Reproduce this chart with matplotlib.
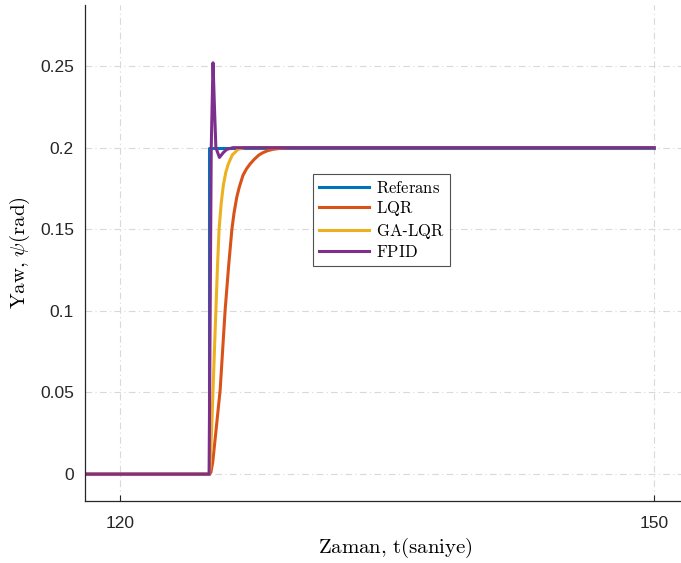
import matplotlib
matplotlib.use("Agg")
from matplotlib import pyplot as plt

# data
t_ref = [118, 125.0, 125.0, 150]
y_ref = [0, 0, 0.2, 0.2]

t_lqr = [118, 125.0, 125.1, 125.2, 125.4, 125.62, 125.9, 126.1, 126.28, 126.4, 126.56, 126.7,
         126.9, 127.1, 127.3, 127.55, 127.8, 128.0, 128.3, 128.6, 129.0, 129.6, 150]
y_lqr = [0, 0, 0.001, 0.007, 0.028, 0.0515, 0.1005, 0.128, 0.150, 0.160, 0.170, 0.176,
         0.183, 0.187, 0.190, 0.193, 0.1955, 0.1968, 0.1982, 0.1990, 0.1996, 0.2, 0.2]

t_ga = [118, 125.0, 125.05, 125.1, 125.2, 125.3, 125.38, 125.47, 125.56, 125.68, 125.8, 125.94,
        126.08, 126.3, 126.63, 127.0, 150]
y_ga = [0, 0, 0.004, 0.015, 0.045, 0.076, 0.1, 0.127, 0.15, 0.166, 0.177, 0.185,
        0.19, 0.1955, 0.199, 0.2, 0.2]

t_fpid = [118, 125.0, 125.12, 125.22, 125.3, 125.38, 125.58, 125.8, 126.0, 126.35, 150]
y_fpid = [0, 0, 0.2, 0.252, 0.225, 0.2, 0.194, 0.197, 0.199, 0.2, 0.2]

labels = [r"$\mathrm{Referans}$", r"$\mathrm{LQR}$", r"$\mathrm{GA}$-$\mathrm{LQR}$", r"$\mathrm{FPID}$"]
colors = ["#0072BD", "#D95319", "#EDB120", "#7E2F8E"]

plt.rcParams["mathtext.fontset"] = "cm"
plt.rcParams["font.family"] = ["Liberation Sans", "DejaVu Sans"]

fig = plt.figure(figsize=(6.81, 5.63), dpi=100)
ax = fig.add_axes([85/681, 62/563, 620/681, 496/563])

series = [(t_ref, y_ref), (t_lqr, y_lqr), (t_ga, y_ga), (t_fpid, y_fpid)]
for (t, y), lab, c in zip(series, labels, colors):
    ax.plot(t, y, color=c, lw=2.2, label=lab)

ax.set_xlim(118.03, 152.85)
ax.set_ylim(-0.0165, 0.2874)
ax.set_xticks([120, 150])
ax.set_yticks([0, 0.05, 0.1, 0.15, 0.2, 0.25])
ax.set_yticklabels(["0", "0.05", "0.1", "0.15", "0.2", "0.25"])
ax.tick_params(direction="in", labelsize=12.5, colors="#262626", length=4, pad=11)
ax.tick_params(axis="y", length=0, pad=8)
ax.grid(True, color="#d9d9d9", ls=(0, (6, 3, 1, 3)), lw=0.8)
ax.spines["top"].set_visible(False)
ax.spines["right"].set_visible(False)
for s in ["left", "bottom"]:
    ax.spines[s].set_color("#262626")
    ax.spines[s].set_linewidth(0.9)

ax.set_xlabel(r"$\mathrm{Zaman{,}\ t(saniye)}$", fontsize=15, labelpad=3)
ax.set_ylabel(r"$\mathrm{Yaw{,}}\ \psi\mathrm{(rad)}$", fontsize=15, labelpad=6)

leg = ax.legend(loc="upper left", bbox_to_anchor=(0.368, 0.659), borderaxespad=0, fontsize=12,
                frameon=True, fancybox=False, edgecolor="#262626", handlelength=3,
                borderpad=0.35, labelspacing=0.2, handletextpad=0.4)
leg.get_frame().set_linewidth(0.8)

fig.savefig("out.png", dpi=100)
